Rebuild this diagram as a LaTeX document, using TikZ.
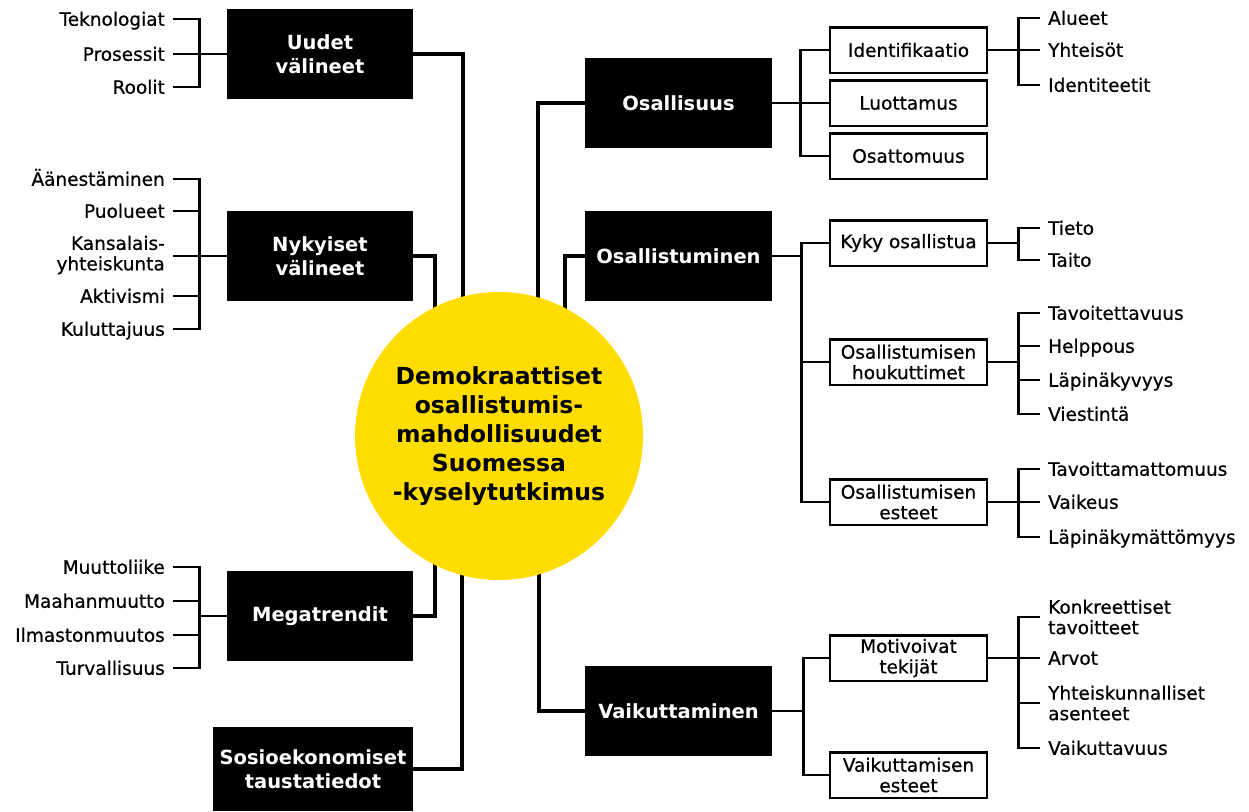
\documentclass[tikz,border=0pt]{standalone}
\usepackage{fontspec}
\setmainfont{DejaVu Sans}
\newfontfamily\medfam[FakeBold=0.6]{DejaVu Sans}
\usetikzlibrary{backgrounds}
\definecolor{ylw}{HTML}{FFDD00}
\newcommand{\rfont}{\medfam\fontsize{18.5}{20.5}\selectfont}
\newcommand{\bxfont}{\fontsize{19.5}{24}\selectfont\bfseries}
\newcommand{\cfont}{\fontsize{23.5}{29}\selectfont\bfseries}
\begin{document}
\begin{tikzpicture}[x=1pt,y=-1pt,
  blk/.style={fill=black, text=white, font=\bxfont, align=center, minimum width=186pt, minimum height=90pt, inner sep=0pt},
  wbox/.style={draw=black, line width=2.5pt, fill=white, font=\rfont, align=center, minimum width=157pt, minimum height=45.5pt, inner sep=0pt},
  leafR/.style={anchor=west, inner sep=0pt, font=\rfont, text height=13.5pt, text depth=0pt},
  leafL/.style={anchor=east, inner sep=0pt, font=\rfont, text height=13.5pt, text depth=0pt},
  leafRR/.style={anchor=west, inner sep=0pt, font=\rfont, align=left},
  leafLL/.style={anchor=east, inner sep=0pt, font=\rfont, align=right},
  br/.style={line width=2.8pt},
  trunk/.style={line width=4.8pt}]
\useasboundingbox (0,0) rectangle (1249,811);

% centre
\node[circle, fill=ylw, minimum size=288pt, inner sep=0pt, font=\cfont, align=center] (c) at (499,436)
  {Demokraattiset\\osallistumis-\\mahdollisuudet\\Suomessa\\-kyselytutkimus};

% left black boxes
\node[blk] (uv) at (320,54) {Uudet\\välineet};
\node[blk] (nv) at (320,256) {Nykyiset\\välineet};
\node[blk] (mt) at (320,616) {Megatrendit};
\node[blk, minimum width=200pt, minimum height=84pt] (se) at (313,769) {Sosioekonomiset\\taustatiedot};

% right black boxes
\node[blk, minimum width=187pt] (os) at (678.5,103) {Osallisuus};
\node[blk, minimum width=187pt] (om) at (678.5,256) {Osallistuminen};
\node[blk, minimum width=187pt] (vk) at (678.5,711) {Vaikuttaminen};

% trunks
\begin{scope}[on background layer]
\draw[trunk] (uv.east) -| ([xshift=-36pt]c.center);
\draw[trunk] (nv.east) -| ([xshift=-64pt]c.center);
\draw[trunk] (mt.east) -| ([xshift=-64pt]c.center);
\draw[trunk] (se.east) -| ([xshift=-37pt]c.center);
\draw[trunk] (os.west) -| ([xshift=39pt]c.center);
\draw[trunk] (om.west) -| ([xshift=66pt]c.center);
\draw[trunk] (vk.west) -| ([xshift=40pt]c.center);
\end{scope}

% left leaves
\node[leafL] (tek) at (165,19) {Teknologiat};
\node[leafL] (pro) at (165,54) {Prosessit};
\node[leafL] (rol) at (165,87) {Roolit};
\draw[br] ([xshift=8pt]tek.east) -| ([xshift=-27pt]uv.west) |- ([xshift=8pt]rol.east);
\draw[br] ([xshift=8pt]pro.east) -- (uv.west);

\node[leafL] (aan) at (165,179) {Äänestäminen};
\node[leafL] (puo) at (165,211) {Puolueet};
\node[leafLL] (kan) at (165,255) {Kansalais-\\yhteiskunta};
\node[leafL] (akt) at (165,296) {Aktivismi};
\node[leafL] (kul) at (165,329) {Kuluttajuus};
\draw[br] ([xshift=8pt]aan.east) -| ([xshift=-27pt]nv.west) |- ([xshift=8pt]kul.east);
\draw[br] ([xshift=8pt]kan.east |- nv.west) -- (nv.west);
\draw[br] ([xshift=8pt]puo.east) -- ++(27,0);
\draw[br] ([xshift=8pt]akt.east) -- ++(27,0);

\node[leafL] (muu) at (165,567) {Muuttoliike};
\node[leafL] (maa) at (165,601) {Maahanmuutto};
\node[leafL] (ilm) at (165,635) {Ilmastonmuutos};
\node[leafL] (tur) at (165,668) {Turvallisuus};
\draw[br] ([xshift=8pt]muu.east) -| ([xshift=-27pt]mt.west) |- ([xshift=8pt]tur.east);
\draw[br] (mt.west) -- ++(-27,0);
\draw[br] ([xshift=8pt]maa.east) -- ++(27,0);
\draw[br] ([xshift=8pt]ilm.east) -- ++(27,0);

% Osallisuus
\node[wbox] (idf) at (908.5,50) {Identifikaatio};
\node[wbox] (lu) at (908.5,103) {Luottamus};
\node[wbox] (ost) at (908.5,156) {Osattomuus};
\draw[br] (os.east) -- (lu.west);
\draw[br] (idf.west) -- ++(-28,0) |- (ost.west);

\node[leafR] (al) at (1048,18) {Alueet};
\node[leafR] (yht) at (1048,50) {Yhteisöt};
\node[leafR] (idt) at (1048,85) {Identiteetit};
\draw[br] ([xshift=-8pt]al.west) -| ([xshift=30pt]idf.east) |- ([xshift=-8pt]idt.west);
\draw[br] (idf.east) -- ([xshift=-8pt]yht.west);

% Osallistuminen
\node[wbox] (kyky) at (908.5,243) {Kyky osallistua};
\node[wbox] (hou) at (908.5,362) {Osallistumisen\\houkuttimet};
\node[wbox] (est) at (908.5,502) {Osallistumisen\\esteet};
\draw[br] (om.east) -- ++(30,0);
\draw[br] (kyky.west) -- ++(-27,0) |- (est.west);
\draw[br] (hou.west) -- ++(-27,0);

\node[leafR] (tie) at (1048,228) {Tieto};
\node[leafR] (tai) at (1048,260) {Taito};
\draw[br] ([xshift=-8pt]tie.west) -| ([xshift=30pt]kyky.east) |- ([xshift=-8pt]tai.west);
\draw[br] (kyky.east) -- ++(30,0);

\node[leafR] (tav) at (1048,313) {Tavoitettavuus};
\node[leafR] (hel) at (1048,346) {Helppous};
\node[leafR] (lap) at (1048,380) {Läpinäkyvyys};
\node[leafR] (vie) at (1048,414) {Viestintä};
\draw[br] ([xshift=-8pt]tav.west) -| ([xshift=30pt]hou.east) |- ([xshift=-8pt]vie.west);
\draw[br] (hou.east) -- ++(30,0);
\draw[br] ([xshift=-8pt]hel.west) -- ++(-23,0);
\draw[br] ([xshift=-8pt]lap.west) -- ++(-23,0);

\node[leafR] (tvm) at (1048,469) {Tavoittamattomuus};
\node[leafR] (vai) at (1048,502) {Vaikeus};
\node[leafR] (lpm) at (1048,537) {Läpinäkymättömyys};
\draw[br] ([xshift=-8pt]tvm.west) -| ([xshift=30pt]est.east) |- ([xshift=-8pt]lpm.west);
\draw[br] (est.east) -- ([xshift=-8pt]vai.west);

% Vaikuttaminen
\node[wbox] (mot) at (908.5,658) {Motivoivat\\tekijät};
\node[wbox] (vest) at (908.5,775) {Vaikuttamisen\\esteet};
\draw[br] (vk.east) -- ++(33,0);
\draw[br] (mot.west) -- ++(-25,0) |- (vest.west);

\node[leafRR] (kon) at (1048,617) {Konkreettiset\\tavoitteet};
\node[leafR] (arv) at (1048,658) {Arvot};
\node[leafRR] (yh2) at (1048,703) {Yhteiskunnalliset\\asenteet};
\node[leafR] (vku) at (1048,748) {Vaikuttavuus};
\draw[br] ([xshift=-8pt]kon.west) -| ([xshift=30pt]mot.east) |- ([xshift=-8pt]vku.west);
\draw[br] (mot.east) -- ([xshift=-8pt]arv.west);
\draw[br] ([xshift=-8pt]yh2.west) -- ++(-23,0);
\end{tikzpicture}
\end{document}
